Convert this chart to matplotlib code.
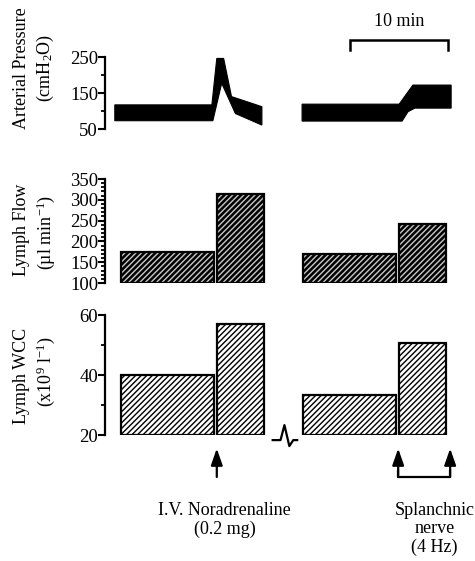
import matplotlib
matplotlib.use("Agg")
import matplotlib.pyplot as plt
import numpy as np

plt.rcParams['font.family'] = ['Liberation Serif', 'DejaVu Serif']
plt.rcParams['mathtext.fontset'] = 'custom'
plt.rcParams['mathtext.rm'] = 'Liberation Serif'
plt.rcParams['mathtext.it'] = 'Liberation Serif:italic'
plt.rcParams['mathtext.default'] = 'regular'
plt.rcParams['hatch.linewidth'] = 1.0

# ---------------- data (time in minutes) ----------------
# Arterial pressure trace, noradrenaline segment
na_t_upper = [1.0, 10.9, 11.4, 12.1, 12.9, 16.0]
na_sys = [117, 117, 246, 246, 140, 112]
na_t_lower = [1.0, 11.0, 11.9, 13.3, 16.0]
na_dia = [73, 73, 177, 93, 61]
# Arterial pressure trace, splanchnic nerve segment
sp_t_upper = [20.1, 30.0, 31.4, 35.3]
sp_sys = [119, 119, 172, 172]
sp_t_lower = [20.1, 30.3, 30.9, 31.6, 35.3]
sp_dia = [72, 72, 98, 108, 108]

# Collection periods (start, end) in minutes
period_start = [1.6, 11.4, 20.2, 30.0]
period_end = [11.1, 16.2, 29.7, 34.8]
# Lymph flow (ul/min)
lymph_flow = [174, 313, 169, 243]
# Lymph WCC (x10^9 / l)
lymph_wcc = [40, 57, 33.3, 50.8]

# Stimulus times (minutes)
na_time = 11.4
sp_on = 29.9
sp_off = 35.2
scale_start, scale_end = 25.0, 35.0

W, H = 475, 561
fig = plt.figure(figsize=(W / 100, H / 100), dpi=100)


def px_axes(left, top, right, bottom):
    return fig.add_axes([left / W, 1 - bottom / H, (right - left) / W, (bottom - top) / H])


def style(ax, ylim, major, minor):
    ax.set_xlim(0, 36)
    ax.set_ylim(*ylim)
    for s in ['top', 'right', 'bottom']:
        ax.spines[s].set_visible(False)
    ax.spines['left'].set_linewidth(1.6)
    ax.set_xticks([])
    ax.set_yticks(major)
    ax.set_yticks(minor, minor=True)
    ax.tick_params(axis='y', which='major', direction='out', length=5, width=1.5,
                   labelsize=13.5, pad=0)
    ax.tick_params(axis='y', which='minor', direction='out', length=3, width=1.3)
    ax.patch.set_visible(False)


ax1 = px_axes(105, 57, 458, 129)
ax2 = px_axes(105, 179, 458, 283)
ax3 = px_axes(105, 315, 458, 435)

# ---- top: arterial pressure ----
style(ax1, (50, 250), [50, 150, 250], [100, 200])
ax1.fill(np.r_[na_t_upper, na_t_lower[::-1]], np.r_[na_sys, na_dia[::-1]],
         color='black', lw=0.8)
ax1.fill(np.r_[sp_t_upper, sp_t_lower[::-1]], np.r_[sp_sys, sp_dia[::-1]],
         color='black', lw=0.8)
# 10 min scale bar
ax1.plot([scale_start, scale_start, scale_end, scale_end], [270, 297, 297, 270],
         color='black', lw=1.8, clip_on=False, solid_joinstyle='miter')
ax1.text((scale_start + scale_end) / 2, 350, '10 min', ha='center', va='center',
         fontsize=13)

# ---- middle: lymph flow ----
style(ax2, (100, 350), np.arange(100, 351, 50), np.arange(100, 351, 10))
starts = np.array(period_start)
widths = np.array(period_end) - starts
ax2.bar(starts, np.array(lymph_flow) - 100, width=widths, bottom=100, align='edge',
        facecolor='black', edgecolor='#c8c8c8', hatch='//////', lw=0)
ax2.bar(starts, np.array(lymph_flow) - 100, width=widths, bottom=100, align='edge',
        fill=False, edgecolor='black', lw=1.6)

# ---- bottom: lymph WCC ----
style(ax3, (20, 60), [20, 40, 60], [30, 50])
ax3.bar(starts, np.array(lymph_wcc) - 20, width=widths, bottom=20, align='edge',
        facecolor='white', edgecolor='black', hatch='//////', lw=1.6)

# break symbol
ax3.plot([17.1, 17.9, 18.3, 18.8, 19.2, 19.6], [18.3, 18.3, 23.3, 16.3, 18.3, 18.3],
         color='black', lw=1.6, clip_on=False)

# arrows
arrow_kw = dict(arrowstyle='-|>,head_length=1.0,head_width=0.35', color='black',
                lw=1.6, mutation_scale=10, shrinkA=0, shrinkB=0)
for xa in [na_time, sp_on, sp_off]:
    ax3.annotate('', xy=(xa, 15.5), xytext=(xa, 6), xycoords='data',
                 arrowprops=arrow_kw, annotation_clip=False)
ax3.plot([sp_on, sp_on, sp_off, sp_off], [8, 6, 6, 8], color='black', lw=1.6,
         clip_on=False)

ax3.text(12.2, -5.3, 'I.V. Noradrenaline', ha='center', va='center', fontsize=13)
ax3.text(12.2, -11.3, '(0.2 mg)', ha='center', va='center', fontsize=13)
ax3.text(33.6, -5.3, 'Splanchnic', ha='center', va='center', fontsize=13)
ax3.text(33.6, -11.3, 'nerve', ha='center', va='center', fontsize=13)
ax3.text(33.6, -17.3, '(4 Hz)', ha='center', va='center', fontsize=13)

# y labels
def ylab(xp, yp, s):
    fig.text(xp / W, 1 - yp / H, s, rotation=90, ha='center', va='center', fontsize=13)

ylab(22, 68, 'Arterial Pressure')
ylab(45, 68, '(cmH$_2$O)')
ylab(22, 230, 'Lymph Flow')
ylab(46, 232, '(µl min$^{-1}$)')
ylab(22, 376, 'Lymph WCC')
ylab(46, 372, '(x10$^9$ l$^{-1}$)')

fig.savefig('out.png', dpi=100)
